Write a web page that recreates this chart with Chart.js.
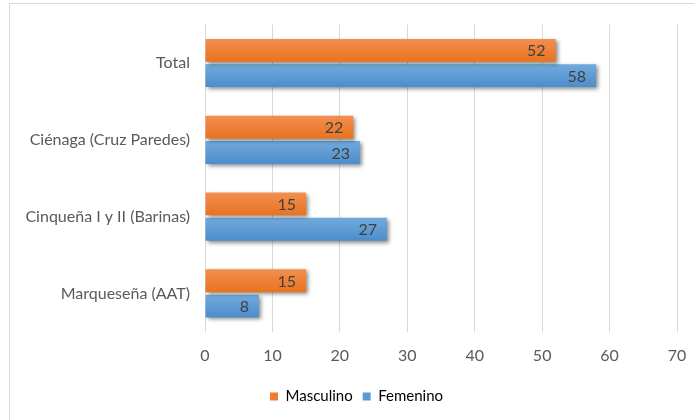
<!DOCTYPE html>
<html>
<head>
<meta charset="utf-8">
<script src="https://cdn.jsdelivr.net/npm/chart.js@4/dist/chart.umd.min.js"></script>
<style>
  html, body { margin: 0; padding: 0; background: #fff; }
  #wrap { width: 694px; height: 420px; }
</style>
</head>
<body>
<div id="wrap"><canvas id="chart" width="694" height="420"></canvas></div>
<script>
const categories = ['Total', 'Ciénaga (Cruz Paredes)', 'Cinqueña I y II (Barinas)', 'Marqueseña (AAT)'];
const masculino = [52, 22, 15, 15];
const femenino = [58, 23, 27, 8];
const xTicks = [0, 10, 20, 30, 40, 50, 60, 70];

const FONT = 'Lato, "Open Sans", sans-serif';

// top/bottom shades for the bar gradients
const shades = [['#F28F50', '#E9731F'], ['#72AADD', '#4C8DCB']];

// light frame around the chart, like the office chart border
const framePlugin = {
  id: 'frame',
  beforeDraw(chart) {
    const ctx = chart.ctx;
    ctx.save();
    ctx.strokeStyle = '#d9d9d9';
    ctx.lineWidth = 1;
    ctx.strokeRect(9.5, 3.5, chart.width + 20, chart.height + 20);
    ctx.restore();
  },
  afterLayout(chart) {
    // nudge the legend right, it sits under the plot in the original
    chart.legend.left += 18;
    chart.legend.right += 18;
  }
};

// gradient fill + soft drop shadow under the bars
const shadowPlugin = {
  id: 'barShadow',
  beforeDatasetDraw(chart, args) {
    const ctx = chart.ctx;
    const s = shades[args.index];
    args.meta.data.forEach(bar => {
      const top = bar.y - bar.height / 2;
      const g = ctx.createLinearGradient(0, top, 0, top + bar.height);
      g.addColorStop(0, s[0]);
      g.addColorStop(1, s[1]);
      bar.options.backgroundColor = g;
    });
    ctx.save();
    ctx.shadowColor = 'rgba(0,0,0,0.45)';
    ctx.shadowBlur = 4;
    ctx.shadowOffsetX = 2;
    ctx.shadowOffsetY = 2;
  },
  afterDatasetDraw(chart) {
    chart.ctx.restore();
  }
};

// value labels inside the end of each bar
const valueLabels = {
  id: 'valueLabels',
  afterDatasetsDraw(chart) {
    const ctx = chart.ctx;
    ctx.save();
    ctx.font = '16px ' + FONT;
    ctx.fillStyle = '#404040';
    ctx.textAlign = 'right';
    ctx.textBaseline = 'middle';
    chart.data.datasets.forEach((ds, i) => {
      chart.getDatasetMeta(i).data.forEach((bar, j) => {
        ctx.fillText(ds.data[j], bar.x - 10, bar.y + 1);
      });
    });
    ctx.restore();
  }
};

new Chart(document.getElementById('chart'), {
  type: 'bar',
  data: {
    labels: categories,
    datasets: [
      // scriptable colours so every bar gets its own options object
      { label: 'Masculino', data: masculino, backgroundColor: () => '#ED7D31' },
      { label: 'Femenino', data: femenino, backgroundColor: () => '#5B9BD5' }
    ]
  },
  options: {
    indexAxis: 'y',
    responsive: false,
    animation: false,
    devicePixelRatio: 1,
    categoryPercentage: 0.66,
    barPercentage: 0.9,
    layout: { padding: { top: 24, right: 17, bottom: 6, left: 0 } },
    scales: {
      x: {
        min: 0,
        max: 70,
        afterBuildTicks(scale) { scale.ticks = xTicks.map(v => ({ value: v })); },
        afterFit(scale) { scale.paddingRight = 0; },
        grid: { color: '#d9d9d9', drawTicks: false },
        border: { display: false },
        ticks: { color: '#595959', font: { family: FONT, size: 16 }, padding: 14 }
      },
      y: {
        grid: { display: false, drawTicks: false },
        border: { display: true, color: '#d9d9d9' },
        ticks: { color: '#595959', font: { family: FONT, size: 16 }, padding: 15 },
        afterFit(scale) { scale.width = 205; }
      }
    },
    plugins: {
      legend: {
        position: 'bottom',
        labels: {
          boxWidth: 8,
          boxHeight: 8,
          padding: 10,
          color: '#595959',
          font: { family: FONT, size: 15 },
          generateLabels(chart) {
            return chart.data.datasets.map((ds, i) => ({
              text: ds.label,
              fillStyle: i === 0 ? '#ED7D31' : '#5B9BD5',
              strokeStyle: 'transparent',
              lineWidth: 0,
              datasetIndex: i
            }));
          }
        }
      },
      tooltip: { enabled: false }
    }
  },
  plugins: [framePlugin, shadowPlugin, valueLabels]
});
</script>
</body>
</html>
